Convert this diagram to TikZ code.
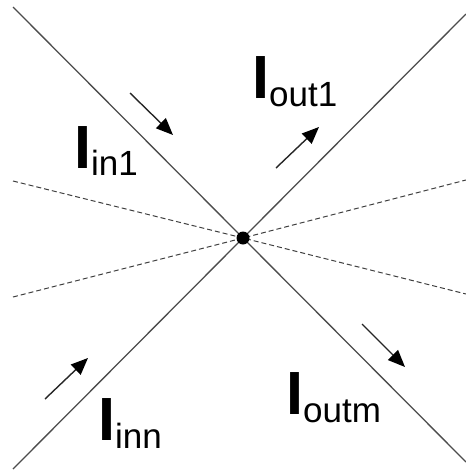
\documentclass[tikz,border=0pt]{standalone}
\usepackage{fontspec}
\setmainfont{Liberation Sans}
\usetikzlibrary{arrows.meta}
\tikzset{
  wire/.style={draw=black!70, line width=1.3pt},
  guide/.style={draw=black!75, line width=1pt, dash pattern=on 5pt off 3pt},
  flow/.style={draw=black!85, line width=1.4pt, -{Triangle[length=17pt,width=14pt,color=black]}},
  lbl/.style={inner sep=0pt, anchor=base west},
}
\newcommand{\curlabel}[2]{{\fontsize{61}{61}\selectfont\bfseries I}{\raisebox{-#2pt}{\fontsize{35}{35}\selectfont #1}}}
\begin{document}
\begin{tikzpicture}[x=1pt,y=-1pt]
\useasboundingbox (0,0) rectangle (466,472);
\coordinate (c) at (243,238);
\coordinate (tl) at (13,7);
\coordinate (br) at (466,462);
\coordinate (bl) at (13,469);
\coordinate (tr) at (466,14);
\coordinate (dlu) at (13,181);
\coordinate (drl) at (466,294);
\coordinate (dll) at (13,297);
\coordinate (dru) at (466,180);
\draw[guide] (dlu) -- (c) -- (drl);
\draw[guide] (dll) -- (c) -- (dru);
\draw[wire] (tl) -- (c) -- (br);
\draw[wire] (bl) -- (c) -- (tr);
\fill (c) circle (6.5pt);
% flow arrows
\coordinate (a1s) at (130,93);  \coordinate (a1e) at (173,135);
\coordinate (a2s) at (276,168); \coordinate (a2e) at (319,127);
\coordinate (a3s) at (45,399);  \coordinate (a3e) at (88,358);
\coordinate (a4s) at (362,324); \coordinate (a4e) at (405,367);
\draw[flow] (a1s) -- (a1e);
\draw[flow] (a2s) -- (a2e);
\draw[flow] (a3s) -- (a3e);
\draw[flow] (a4s) -- (a4e);
% labels
\node[lbl] (lin1) at (74,168) {\curlabel{in1}{7}};
\node[lbl] (lout1) at (252,98) {\curlabel{out1}{8}};
\node[lbl] (linn) at (98,440) {\curlabel{inn}{8}};
\node[lbl] (loutm) at (286,414) {\curlabel{outm}{8}};
\end{tikzpicture}
\end{document}
